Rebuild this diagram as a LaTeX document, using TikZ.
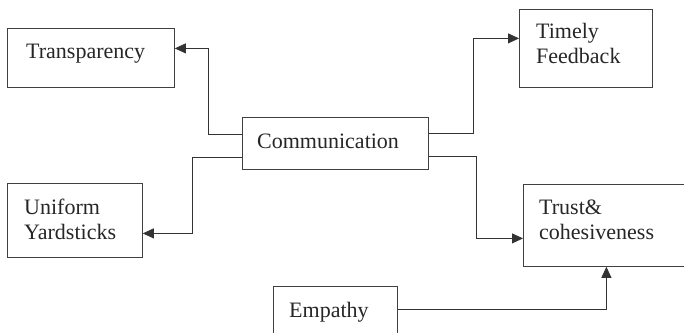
\documentclass[tikz,border=0pt]{standalone}
\usepackage{fontspec}
\setmainfont{Liberation Serif}
\usepackage{tikz}
\usetikzlibrary{arrows.meta}
\usetikzlibrary{positioning}
\tikzset{box node/.style={rectangle,draw=black!75,line width=0.8pt,anchor=north west,inner sep=0pt},
  label node/.style={anchor=base west,inner sep=0pt,align=left,font=\fontsize{22}{25}\selectfont,text=black!85},
  link/.style={draw=black!80,line width=0.8pt,-{Triangle[length=11pt,width=10pt]}}}

\begin{document}
\begin{tikzpicture}[x=1pt,y=1pt]
    \clip (0,0) rectangle (684,-332);
    \node[box node,minimum width=167pt,minimum height=59pt] (transp) at (7,-28) {};
    \node[box node,minimum width=186pt,minimum height=52pt] (comm) at (242,-117) {};
    \node[box node,minimum width=133pt,minimum height=78pt] (timely) at (519,-9) {};
    \node[box node,minimum width=135pt,minimum height=74pt] (unif) at (7,-183) {};
    \node[box node,minimum width=167pt,minimum height=82pt] (trust) at (523,-184) {};
    \node[box node,minimum width=124pt,minimum height=60pt] (empathy) at (273,-286) {};

    % two-line labels sit on the baseline of their last line
    \node[label node] (transptext) at ([xshift=19pt,yshift=-30pt]transp.north west) {Transparency};
    \node[label node] (commtext) at ([xshift=15pt,yshift=-31pt]comm.north west) {Communication};
    \node[label node] (timelytext) at ([xshift=17pt,yshift=-54pt]timely.north west) {Timely\\Feedback};
    \node[label node] (uniftext) at ([xshift=17pt,yshift=-56pt]unif.north west) {Uniform\\Yardsticks};
    \node[label node] (trusttext) at ([xshift=16pt,yshift=-55pt]trust.north west) {Trust\&\\cohesiveness};
    \node[label node] (empathytext) at ([xshift=16pt,yshift=-31pt]empathy.north west) {Empathy};

    \path[link] ([yshift=9pt]comm.west) -- ++(-34,0) |- ([yshift=9.5pt]transp.east);
    \path[link] ([yshift=-14pt]comm.west) -- ++(-50,0) |- ([yshift=-13pt]unif.east);
    \path[link] ([yshift=10.5pt]comm.east) -- ++(45,0) |- ([yshift=10pt]timely.west);
    \path[link] ([yshift=-13pt]comm.east) -- ++(48,0) |- ([yshift=-13pt]trust.west);
    \path[link] ([yshift=7pt]empathy.east) -| ([xshift=-0.5pt]trust.south);
\end{tikzpicture}
\end{document}
